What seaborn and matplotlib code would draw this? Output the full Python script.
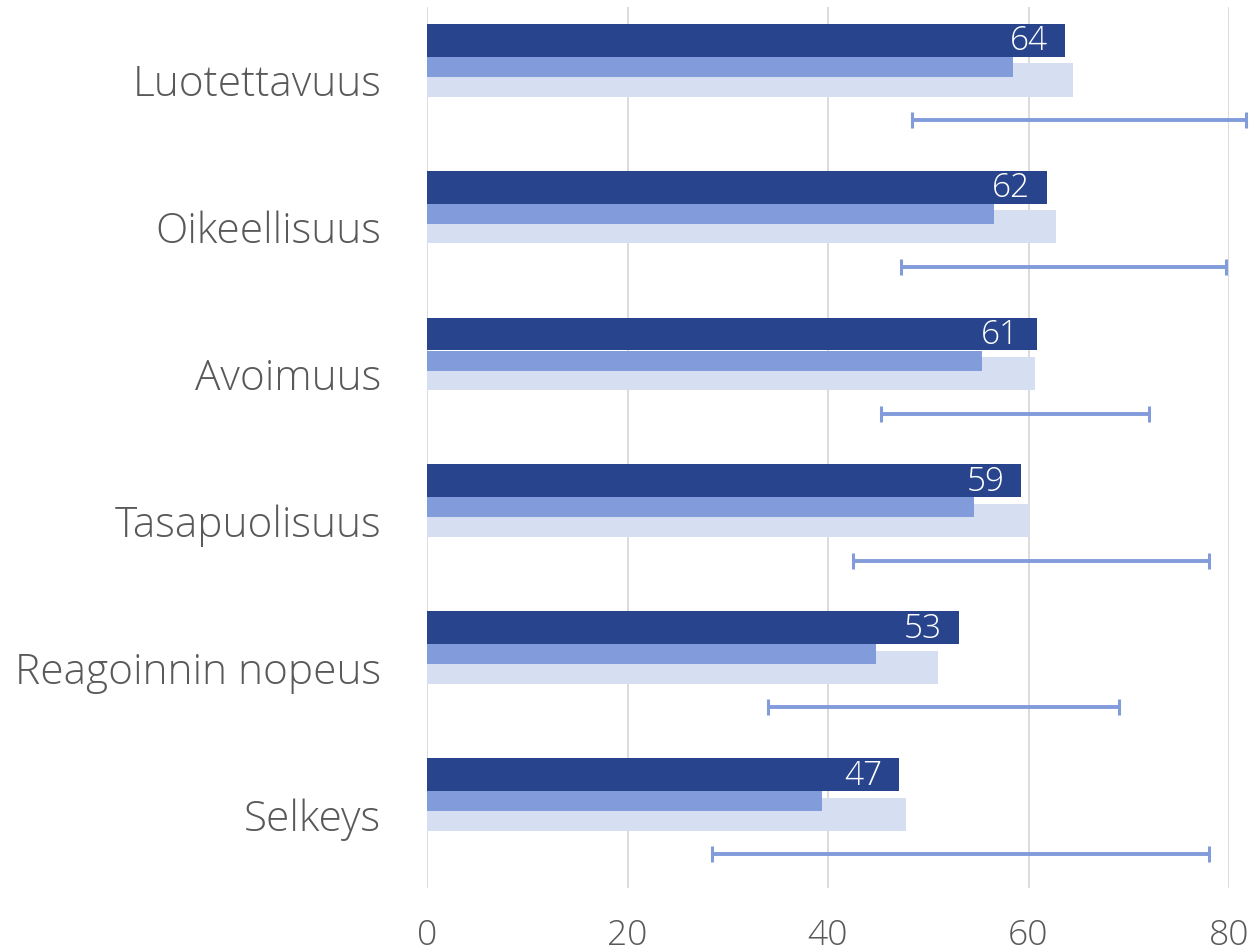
import matplotlib
matplotlib.use("Agg")
import matplotlib.pyplot as plt
import seaborn as sns
import numpy as np
import pandas as pd

categories = ["Luotettavuus", "Oikeellisuus", "Avoimuus", "Tasapuolisuus",
              "Reagoinnin nopeus", "Selkeys"]
dark_vals = [63.6, 61.8, 60.8, 59.3, 53.1, 47.1]
medium_vals = [58.5, 56.6, 55.4, 54.6, 44.8, 39.4]
light_vals = [64.4, 62.7, 60.6, 60.0, 51.0, 47.8]
range_low = [48.4, 47.3, 45.3, 42.5, 34.0, 28.4]
range_high = [81.7, 79.7, 72.0, 78.0, 69.0, 78.0]
xticks = [0, 20, 40, 60, 80]

DARK = "#27448C"
MED = "#829BDB"
LIGHT = "#D6DEF2"
GRID = "#D9D9D9"
TEXT = "#595959"

sns.set_theme(style="white")
plt.rcParams["font.family"] = ["Open Sans", "DejaVu Sans"]

fig = plt.figure(figsize=(12.5, 9.51), dpi=100)
ax = fig.add_axes([427 / 1250, 1 - 888 / 951, (1229 - 427) / 1250, (888 - 6.5) / 951])

pos = np.arange(len(categories))
df = pd.DataFrame({"cat": categories, "dark": dark_vals})

# light bar (centered on category)
ax.barh(pos, light_vals, height=0.226, color=LIGHT, linewidth=0, zorder=2)
# medium bar
ax.barh(pos - 0.090, medium_vals, height=0.136, color=MED, linewidth=0, zorder=3)
# dark bar via seaborn
sns.barplot(data=df, y="cat", x="dark", orient="h", ax=ax, color=DARK,
            width=0.224, saturation=1, linewidth=0, zorder=4)
for p in ax.patches[-len(categories):]:
    p.set_y(p.get_y() - 0.271)

# value labels
for i, v in enumerate(dark_vals):
    ax.text(v - 1.7, i - 0.262, f"{v:.0f}", color="white", ha="right", va="center",
            fontsize=24, fontweight="light", zorder=5)

# range lines
lo = np.array(range_low)
hi = np.array(range_high)
ax.errorbar(lo, pos + 0.271, xerr=[np.zeros_like(lo), hi - lo], fmt="none",
            ecolor=MED, elinewidth=2.8, capsize=6, capthick=2.2, zorder=3, clip_on=False)

ax.set_xlim(0, 80)
ax.set_ylim(5.5, -0.5)
ax.set_xticks(xticks)
ax.set_xticklabels([str(t) for t in xticks])
ax.set_yticks(pos)
ax.set_yticklabels(categories)
ax.set_xlabel("")
ax.set_ylabel("")
ax.xaxis.grid(True, color=GRID, linewidth=1.3, zorder=0)
ax.set_axisbelow(True)
for s in ax.spines.values():
    s.set_visible(False)
ax.tick_params(axis="y", length=0, pad=33, labelsize=30.5, labelcolor=TEXT)
ax.tick_params(axis="x", length=0, pad=22, labelsize=25.5, labelcolor=TEXT)
for lab in ax.get_yticklabels() + ax.get_xticklabels():
    lab.set_fontweight("light")

fig.savefig("out.png", dpi=100)
